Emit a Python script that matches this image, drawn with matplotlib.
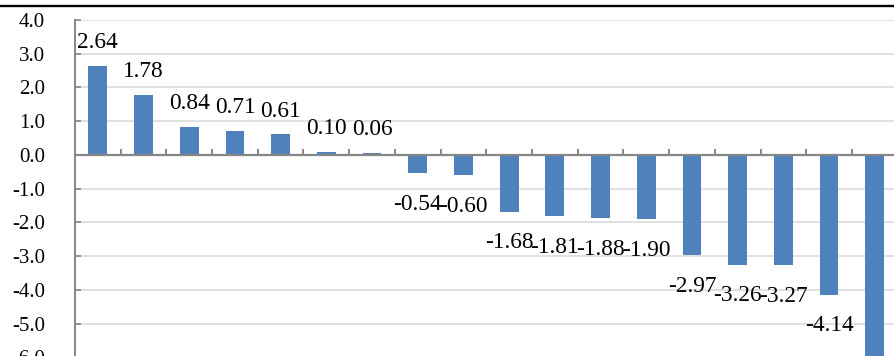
import matplotlib
matplotlib.use("Agg")
import matplotlib.pyplot as plt
from matplotlib.lines import Line2D
import numpy as np

plt.rcParams['font.family'] = ['Liberation Serif', 'DejaVu Serif']
plt.rcParams['axes.unicode_minus'] = False

# Values (last bar runs past the cropped bottom; estimated)
values = [2.64, 1.78, 0.84, 0.71, 0.61, 0.10, 0.06, -0.54, -0.60,
          -1.68, -1.81, -1.88, -1.90, -2.97, -3.26, -3.27, -4.14, -6.5]
labels = ["2.64", "1.78", "0.84", "0.71", "0.61", "0.10", "0.06", "-0.54", "-0.60",
          "-1.68", "-1.81", "-1.88", "-1.90", "-2.97", "-3.26", "-3.27", "-4.14", ""]
yticks = [-6, -5, -4, -3, -2, -1, 0, 1, 2, 3, 4]

W, H = 895, 356
fig = plt.figure(figsize=(W / 100, H / 100), dpi=100)
left = 75 / W
right = 897.6 / W
top_px, bot_px = 20, 357.5
ax = fig.add_axes([left, 1 - bot_px / H, right - left, (bot_px - top_px) / H])

x = np.arange(len(values))
ax.bar(x, values, width=0.41, color='#4F81BD', zorder=3, edgecolor='none')

ax.set_xlim(-0.5, len(values) - 0.5)
ax.set_ylim(-6, 4)
ax.set_yticks(yticks)
ax.set_yticklabels([f"{v:.1f}" for v in yticks], fontsize=15)
ax.yaxis.grid(True, color='#d9d9d9', linewidth=1.1, zorder=0)
ax.set_axisbelow(True)

for s in ['top', 'right']:
    ax.spines[s].set_visible(False)
ax.spines['left'].set_color('#868686')
ax.spines['left'].set_linewidth(1.4)
ax.spines['bottom'].set_position(('data', 0))
ax.spines['bottom'].set_color('#868686')
ax.spines['bottom'].set_linewidth(1.6)
ax.spines['bottom'].set_zorder(4)

ax.set_xticks(np.arange(0.5, len(values) - 0.5, 1.0))
ax.set_xticklabels([])
ax.tick_params(axis='x', direction='in', length=4.5, width=1.4, color='#868686')
ax.tick_params(axis='y', direction='in', length=4, width=1.2, color='#868686', pad=21.5)

for xi, v, lab in zip(x, values, labels):
    if not lab:
        continue
    off = 16.6 if v >= 0 else -22.3
    ax.annotate(lab, (xi, v), xytext=(0, off), textcoords='offset points',
                ha='center', va='center', fontsize=16.8, color='black', zorder=5)

fig.add_artist(Line2D([0, 1], [1 - 5.8 / H, 1 - 5.8 / H], transform=fig.transFigure,
                      color='black', linewidth=1.7))

fig.savefig('out.png', dpi=100)
